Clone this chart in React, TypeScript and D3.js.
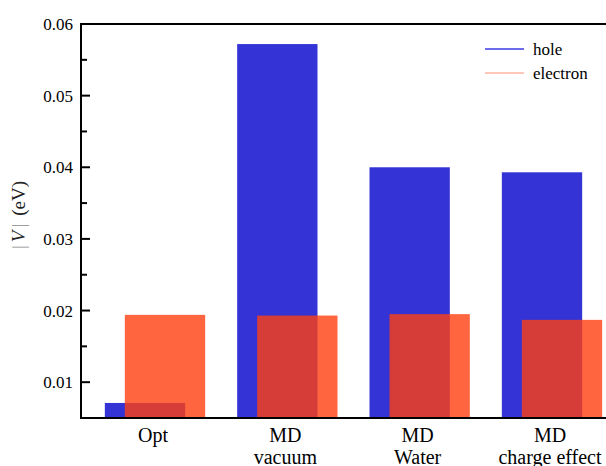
import React, {useRef, useEffect} from 'react'
import * as d3 from 'd3'

const categories = ['Opt', 'MD\nvacuum', 'MD\nWater', 'MD\ncharge effect']
const holeValues = [0.0071, 0.0572, 0.04, 0.0393]
const electronValues = [0.0194, 0.0193, 0.0195, 0.0187]
const majorTicks = [0.01, 0.02, 0.03, 0.04, 0.05, 0.06]
const minorTicks = [0.015, 0.025, 0.035, 0.045, 0.055]
const seriesNames = ['hole', 'electron']

const W = 606
const H = 466
const margin = {top: 24, left: 81, bottom: 418}
const font = '"Liberation Serif", "Times New Roman", serif'

export default function App() {
  const svgRef = useRef<SVGSVGElement>(null)

  useEffect(() => {
    const svg = d3.select(svgRef.current)
    svg.selectAll('*').remove()

    const y = d3.scaleLinear().domain([0.005, 0.06]).range([margin.bottom, margin.top])
    // category centres
    const x = d3.scalePoint<string>().domain(categories).range([155, 552])
    const step = x.step()
    const barW = step * 0.607
    const off = 10

    const bars = svg.append('g')
    bars
      .selectAll('.hole')
      .data(holeValues)
      .enter()
      .append('rect')
      .attr('x', (d, i) => x(categories[i])! - off - barW / 2)
      .attr('y', d => y(d))
      .attr('width', barW)
      .attr('height', d => margin.bottom - y(d))
      .attr('fill', '#0000cc')
      .attr('opacity', 0.8)
    bars
      .selectAll('.electron')
      .data(electronValues)
      .enter()
      .append('rect')
      .attr('x', (d, i) => x(categories[i])! + off - barW / 2)
      .attr('y', d => y(d))
      .attr('width', barW)
      .attr('height', d => margin.bottom - y(d))
      .attr('fill', 'rgb(255,64,16)')
      .attr('opacity', 0.8)

    // frame
    const axes = svg.append('g').attr('stroke', '#000').attr('stroke-width', 2)
    axes.append('line').attr('x1', margin.left).attr('x2', W).attr('y1', margin.top).attr('y2', margin.top)
    axes.append('line').attr('x1', margin.left).attr('x2', W).attr('y1', margin.bottom).attr('y2', margin.bottom)
    axes.append('line').attr('x1', margin.left).attr('x2', margin.left).attr('y1', margin.top - 1).attr('y2', margin.bottom + 1)

    axes
      .selectAll('.major')
      .data(majorTicks)
      .enter()
      .append('line')
      .attr('x1', margin.left)
      .attr('x2', margin.left + 9)
      .attr('y1', d => y(d))
      .attr('y2', d => y(d))
    axes
      .selectAll('.minor')
      .data(minorTicks)
      .enter()
      .append('line')
      .attr('x1', margin.left)
      .attr('x2', margin.left + 6)
      .attr('y1', d => y(d))
      .attr('y2', d => y(d))

    svg
      .append('g')
      .selectAll('text')
      .data(majorTicks)
      .enter()
      .append('text')
      .attr('x', margin.left - 8)
      .attr('y', d => y(d) + 6)
      .attr('text-anchor', 'end')
      .attr('font-family', font)
      .attr('font-size', 17)
      .text(d => d3.format('.2f')(d))

    const labels = svg
      .append('g')
      .selectAll('text')
      .data(categories)
      .enter()
      .append('text')
      .attr('text-anchor', 'middle')
      .attr('font-family', font)
      .attr('font-size', 20)
    labels.each(function(d) {
      const t = d3.select(this)
      d.split('\n').forEach((line, k) => {
        t.append('tspan')
          .attr('x', x(d)! - 2)
          .attr('y', 442 + k * 22)
          .text(line)
      })
    })

    const ylab = svg
      .append('text')
      .attr('transform', 'translate(25,215) rotate(-90)')
      .attr('text-anchor', 'middle')
      .attr('font-family', font)
      .attr('font-size', 19)
      .attr('fill', '#222')
    ylab.append('tspan').attr('fill', '#888').text('|')
    ylab.append('tspan').attr('dx', 3).attr('font-style', 'italic').text('V')
    ylab.append('tspan').attr('dx', 3).attr('fill', '#888').text('|')
    ylab.append('tspan').attr('dx', 8).text('(eV)')

    const legColors = ['#3b3be6', 'rgb(255,180,160)']
    const leg = svg.append('g')
    seriesNames.forEach((name, i) => {
      leg.append('line')
        .attr('x1', 485)
        .attr('x2', 524)
        .attr('y1', 49 + i * 24)
        .attr('y2', 49 + i * 24)
        .attr('stroke', legColors[i])
        .attr('stroke-width', 1.5)
      leg.append('text')
        .attr('x', 533)
        .attr('y', 55 + i * 24)
        .attr('font-family', font)
        .attr('font-size', 17)
        .text(name)
    })
  }, [])

  return (
    <svg
      ref={svgRef}
      width={W}
      height={H}
      style={{position: 'absolute', left: 0, top: 0, background: '#fff'}}
    />
  )
}
